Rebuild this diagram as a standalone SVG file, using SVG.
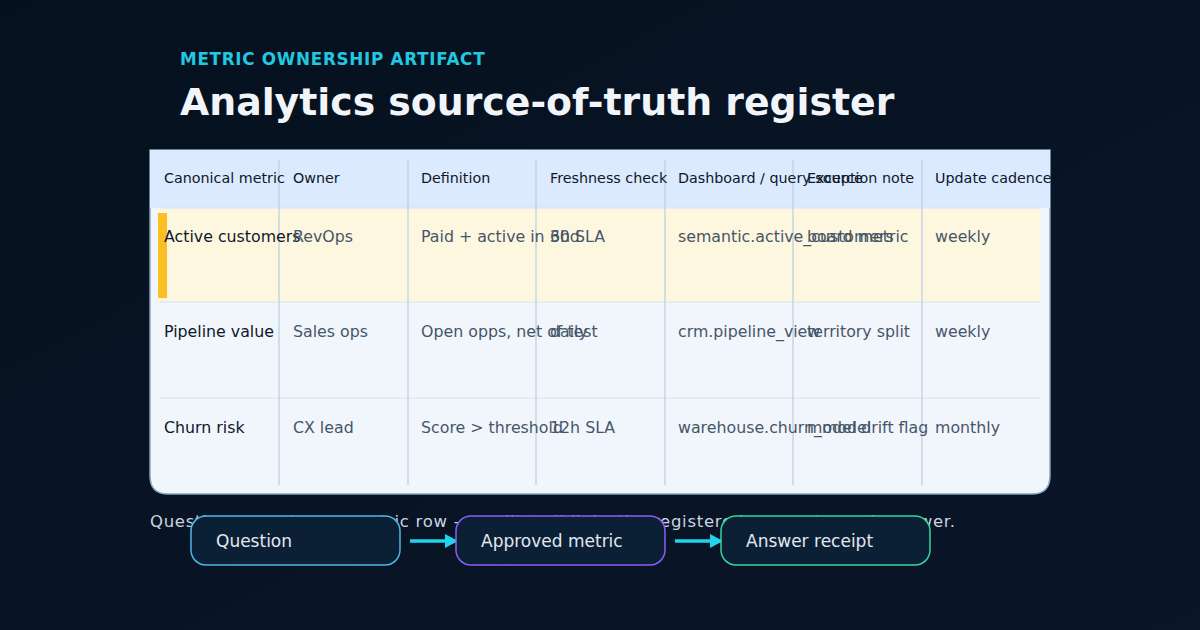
<svg xmlns="http://www.w3.org/2000/svg" width="1200" height="630" viewBox="0 0 1200 630">
<defs>
<linearGradient id="bg" x1="0" y1="0" x2="1" y2="1"><stop offset="0" stop-color="#06111f"/><stop offset="1" stop-color="#0a1528"/></linearGradient>
<marker id="ah" markerWidth="13" markerHeight="14" refX="11" refY="7" orient="auto" markerUnits="userSpaceOnUse"><path d="M0,0 L13,7 L0,14 Z" fill="#22d3ee"/></marker>
</defs>
<style>
text{font-family:"DejaVu Sans",sans-serif}
.h{font-size:14.3px;fill:#0f172a}
.c{font-size:15.8px;fill:#475569}
.c1{font-size:15.8px;fill:#0f172a}
.vl{stroke:#c4d4e4;stroke-width:1.5}
.hl{stroke:#d6e2ee;stroke-width:1}
.box{fill:#0c2035;stroke-width:1.5}
.bt{font-size:17px;fill:#e2e8f0}
.con{stroke:#22d3ee;stroke-width:3.5;fill:none}
</style>
<rect width="1200" height="630" fill="url(#bg)"/>
<text x="180" y="65" font-size="16.8" font-weight="bold" fill="#22c7e0" letter-spacing="0.7">METRIC OWNERSHIP ARTIFACT</text>
<text x="180" y="115" font-size="37.8" font-weight="bold" fill="#f1f5f9">Analytics source-of-truth register</text>
<g id="table">
<path d="M150,150 H1050 V476 Q1050,494 1032,494 H168 Q150,494 150,476 Z" fill="#f1f6fc" stroke="#8aa4c0" stroke-width="1.5"/>
<rect x="150" y="150" width="900" height="58" fill="#dbeafe"/>
<rect x="158" y="209" width="882" height="93" fill="#fef7e0"/>
<rect x="158" y="213" width="9" height="85" fill="#fbbf24"/>
<line class="hl" x1="160" y1="208" x2="1040" y2="208"/>
<line class="hl" x1="160" y1="302" x2="1040" y2="302"/>
<line class="hl" x1="160" y1="398" x2="1040" y2="398"/>
<g>
<line class="vl" x1="279" y1="160" x2="279" y2="485"/><line class="vl" x1="408" y1="160" x2="408" y2="485"/><line class="vl" x1="536" y1="160" x2="536" y2="485"/><line class="vl" x1="665" y1="160" x2="665" y2="485"/><line class="vl" x1="793" y1="160" x2="793" y2="485"/><line class="vl" x1="922" y1="160" x2="922" y2="485"/>
</g>
<text class="h" x="164" y="183">Canonical metric</text><text class="h" x="293" y="183">Owner</text><text class="h" x="421" y="183">Definition</text><text class="h" x="550" y="183">Freshness check</text><text class="h" x="678" y="183">Dashboard / query source</text><text class="h" x="807" y="183">Exception note</text><text class="h" x="935" y="183">Update cadence</text>
<text class="c1" x="164" y="242">Active customers</text><text class="c" x="293" y="242">RevOps</text><text class="c" x="421" y="242">Paid + active in 30d</text><text class="c" x="550" y="242">6h SLA</text><text class="c" x="678" y="242">semantic.active_customers</text><text class="c" x="807" y="242">board metric</text><text class="c" x="935" y="242">weekly</text>
<text class="c1" x="164" y="337">Pipeline value</text><text class="c" x="293" y="337">Sales ops</text><text class="c" x="421" y="337">Open opps, net of test</text><text class="c" x="550" y="337">daily</text><text class="c" x="678" y="337">crm.pipeline_view</text><text class="c" x="807" y="337">territory split</text><text class="c" x="935" y="337">weekly</text>
<text class="c1" x="164" y="433">Churn risk</text><text class="c" x="293" y="433">CX lead</text><text class="c" x="421" y="433">Score &gt; threshold</text><text class="c" x="550" y="433">12h SLA</text><text class="c" x="678" y="433">warehouse.churn_model</text><text class="c" x="807" y="433">model drift flag</text><text class="c" x="935" y="433">monthly</text>
</g>
<text x="150" y="527" font-size="16.5" fill="#cbd5e1" textLength="805" lengthAdjust="spacing">Question maps to one metric row — audit trail links the registered source to each answer.</text>
<g id="connectors">
<line class="con" x1="410" y1="541" x2="456" y2="541" marker-end="url(#ah)"/>
<line class="con" x1="675" y1="541" x2="721" y2="541" marker-end="url(#ah)"/>
</g>
<g id="n-question"><rect class="box" x="191" y="516" width="209" height="49" rx="15" stroke="#4fb4e6"/><text class="bt" x="216" y="547">Question</text></g>
<g id="n-approved"><rect class="box" x="456" y="516" width="209" height="49" rx="15" stroke="#8b5cf6"/><text class="bt" x="481" y="547">Approved metric</text></g>
<g id="n-receipt"><rect class="box" x="721" y="516" width="209" height="49" rx="15" stroke="#34d399"/><text class="bt" x="746" y="547">Answer receipt</text></g>
</svg>
